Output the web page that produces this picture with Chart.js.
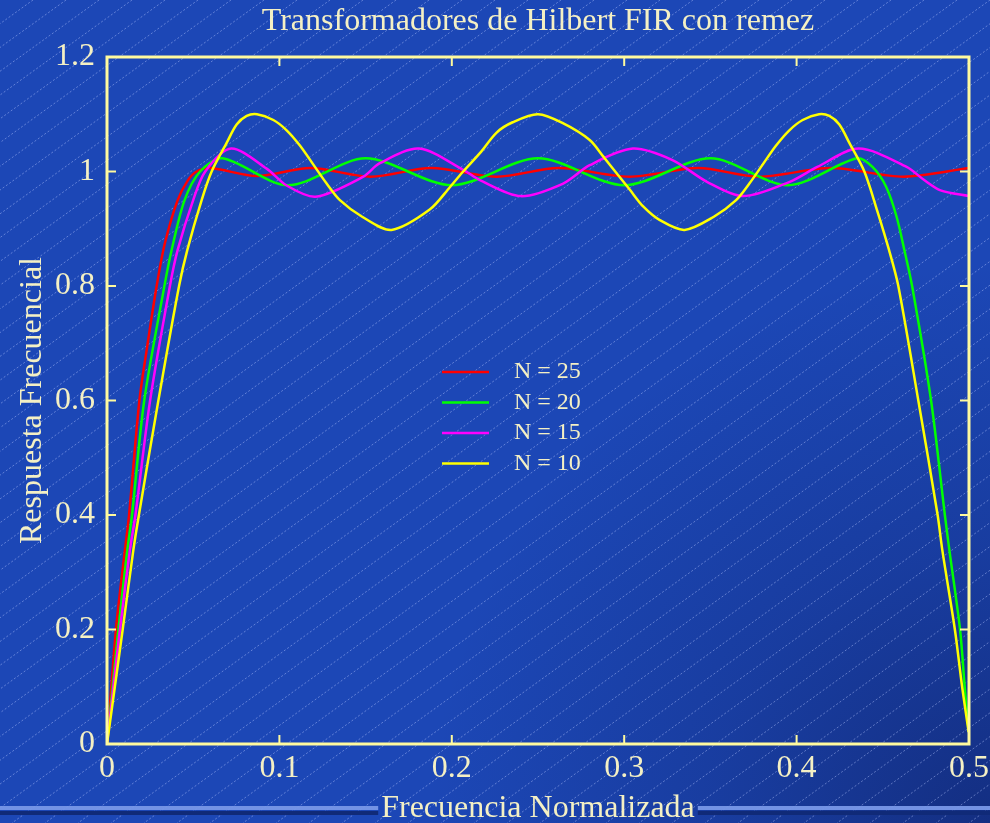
<!DOCTYPE html>
<html>
<head>
<meta charset="utf-8">
<script src="https://cdn.jsdelivr.net/npm/chart.js@4"></script>
<style>
  html, body { margin: 0; padding: 0; background: #1c47b6; }
  canvas { display: block; }
</style>
</head>
<body>
<canvas id="chart" width="990" height="823"></canvas>
<script>
// Frequency response of FIR Hilbert transformers (remez), normalized frequency 0..0.5
const freqN25 = [0, 0.0052, 0.0104, 0.0128, 0.0188, 0.023, 0.0288, 0.0336, 0.041, 0.047, 0.052, 0.06, 0.087, 0.118, 0.153, 0.188, 0.226, 0.262, 0.303, 0.343, 0.378, 0.42, 0.462, 0.5];
const respN25 = [0, 0.2, 0.339, 0.4, 0.6, 0.688, 0.8, 0.875, 0.95, 0.985, 1.0, 1.006, 0.992, 1.006, 0.991, 1.006, 0.991, 1.006, 0.991, 1.006, 0.991, 1.006, 0.991, 1.006];

const freqN20 = [0, 0.0066, 0.0118, 0.0145, 0.0216, 0.0333, 0.0375, 0.045, 0.054, 0.067, 0.105, 0.15, 0.2, 0.25, 0.3, 0.35, 0.395, 0.435, 0.444, 0.452, 0.458, 0.4625, 0.467, 0.478, 0.486, 0.4886, 0.4948, 0.4975, 0.4998];
const respN20 = [0, 0.2, 0.339, 0.4, 0.6, 0.8, 0.863, 0.95, 1.0, 1.023, 0.976, 1.023, 0.976, 1.023, 0.976, 1.023, 0.976, 1.023, 1.008, 0.973, 0.921, 0.863, 0.8, 0.6, 0.4, 0.339, 0.2, 0.1, 0.022];

const freqN15 = [0, 0.0075, 0.0133, 0.0165, 0.025, 0.0365, 0.041, 0.05, 0.057, 0.072, 0.0926, 0.104, 0.121, 0.1487, 0.158, 0.181, 0.2066, 0.2163, 0.24, 0.2646, 0.28, 0.305, 0.328, 0.348, 0.369, 0.396, 0.412, 0.436, 0.4638, 0.474, 0.4835, 0.5];
const respN15 = [0, 0.2, 0.339, 0.4, 0.6, 0.8, 0.863, 0.95, 1.0, 1.04, 1.005, 0.976, 0.956, 0.991, 1.014, 1.04, 1.003, 0.985, 0.957, 0.979, 1.011, 1.04, 1.02, 0.982, 0.957, 0.982, 1.008, 1.04, 1.008, 0.985, 0.967, 0.957];

const freqN10 = [0, 0.0091, 0.0153, 0.0185, 0.0298, 0.0418, 0.0466, 0.0549, 0.0607, 0.0694, 0.0752, 0.081, 0.087, 0.0965, 0.1042, 0.112, 0.1197, 0.1274, 0.1351, 0.148, 0.165, 0.187, 0.199, 0.2066, 0.2163, 0.226, 0.2353, 0.25, 0.2647, 0.28, 0.2879, 0.2956, 0.3033, 0.311, 0.3207, 0.335, 0.352, 0.3649, 0.3726, 0.3803, 0.388, 0.3958, 0.4035, 0.413, 0.419, 0.4248, 0.4306, 0.4393, 0.4466, 0.4536, 0.459, 0.4706, 0.4818, 0.4845, 0.4918, 0.496, 0.4998];
const respN10 = [0, 0.2, 0.339, 0.4, 0.6, 0.8, 0.863, 0.95, 1.0, 1.05, 1.082, 1.097, 1.1, 1.09, 1.072, 1.045, 1.012, 0.979, 0.95, 0.921, 0.898, 0.933, 0.973, 1.0, 1.032, 1.068, 1.086, 1.1, 1.084, 1.055, 1.026, 0.997, 0.968, 0.939, 0.915, 0.898, 0.921, 0.95, 0.979, 1.012, 1.045, 1.072, 1.09, 1.1, 1.097, 1.082, 1.05, 1.0, 0.933, 0.863, 0.8, 0.6, 0.4, 0.339, 0.2, 0.1, 0.021];

const seriesLabels = ['N = 25', 'N = 20', 'N = 15', 'N = 10'];
const seriesColors = ['#ff0000', '#00ff00', '#ff00ff', '#ffff00'];

const xTickValues = [0, 0.1, 0.2, 0.3, 0.4, 0.5];
const yTickValues = [0, 0.2, 0.4, 0.6, 0.8, 1, 1.2];

const TEXT = '#f4f0c4';
const FRAME = '#fffa9e';
const SERIF = '"Liberation Serif", "Times New Roman", Times, serif';

function pairs(fx, fy) { return fx.map((f, i) => ({ x: f, y: fy[i] })); }
function shortNum(v) { return String(Math.round(v * 10) / 10); }

// Slide backdrop: blue field, darker lower-right corner, thin diagonal hatching, footer rule
const backdrop = {
  id: 'backdrop',
  beforeDraw(chart) {
    const { ctx, width, height, chartArea } = chart;
    ctx.save();
    ctx.fillStyle = '#1c47b6';
    ctx.fillRect(0, 0, width, height);
    const g = ctx.createRadialGradient(width, height, 0, width, height, 560);
    g.addColorStop(0, 'rgba(14,30,95,0.60)');
    g.addColorStop(0.5, 'rgba(14,30,95,0.25)');
    g.addColorStop(1, 'rgba(14,30,95,0)');
    ctx.fillStyle = g;
    ctx.fillRect(0, 0, width, height);

    ctx.strokeStyle = 'rgba(185,200,255,0.45)';
    ctx.lineWidth = 1;
    ctx.setLineDash([2, 2]);
    const slope = 0.72, gap = 33;
    const run = height / slope;
    for (let c = 0; c < width + run; c += gap) {
      ctx.beginPath();
      ctx.moveTo(c, 0);
      ctx.lineTo(c - run, height);
      ctx.stroke();
    }
    ctx.setLineDash([]);

    // footer rule, interrupted behind the x-axis title
    ctx.font = '32px ' + SERIF;
    const tw = ctx.measureText('Frecuencia Normalizada').width;
    const cx = (chartArea.left + chartArea.right) / 2;
    const g0 = cx - tw / 2 - 3, g1 = cx + tw / 2 + 3;
    ctx.fillStyle = 'rgba(120,152,232,0.95)';
    ctx.fillRect(0, 806, g0, 4);
    ctx.fillRect(g1, 806, width - g1, 4);
    ctx.fillStyle = '#102a78';
    ctx.fillRect(0, 811, g0, 4);
    ctx.fillRect(g1, 811, width - g1, 4);
    ctx.restore();
  }
};

// Box frame around the plot with inward tick marks on all four sides
const frame = {
  id: 'frame',
  afterDatasetsDraw(chart) {
    const { ctx, chartArea: a, scales: { x, y } } = chart;
    ctx.save();
    ctx.strokeStyle = FRAME;
    ctx.lineWidth = 2;
    ctx.beginPath();
    x.ticks.forEach(t => {
      const px = x.getPixelForValue(t.value);
      if (px <= a.left + 2 || px >= a.right - 2) return;
      ctx.moveTo(px, a.bottom); ctx.lineTo(px, a.bottom - 9);
      ctx.moveTo(px, a.top); ctx.lineTo(px, a.top + 9);
    });
    y.ticks.forEach(t => {
      const py = y.getPixelForValue(t.value);
      if (py <= a.top + 2 || py >= a.bottom - 2) return;
      ctx.moveTo(a.left, py); ctx.lineTo(a.left + 9, py);
      ctx.moveTo(a.right, py); ctx.lineTo(a.right - 9, py);
    });
    ctx.stroke();
    ctx.lineWidth = 3;
    ctx.strokeRect(a.left, a.top, a.right - a.left, a.bottom - a.top);
    ctx.restore();
  }
};

// Key placed inside the plot area
const keyBox = {
  id: 'keyBox',
  afterDraw(chart) {
    const { ctx, chartArea: a } = chart;
    const x0 = a.left + 335, y0 = a.top + 315;
    ctx.save();
    ctx.font = '24px ' + SERIF;
    ctx.textBaseline = 'middle';
    ctx.textAlign = 'left';
    chart.data.datasets.forEach((ds, i) => {
      const yy = y0 + i * 30.5;
      ctx.strokeStyle = ds.borderColor;
      ctx.lineWidth = 2.5;
      ctx.beginPath();
      ctx.moveTo(x0, yy);
      ctx.lineTo(x0 + 47, yy);
      ctx.stroke();
      ctx.fillStyle = TEXT;
      ctx.fillText(ds.label, x0 + 72, yy);
    });
    ctx.restore();
  }
};

const series = [[freqN25, respN25], [freqN20, respN20], [freqN15, respN15], [freqN10, respN10]];

new Chart(document.getElementById('chart'), {
  type: 'line',
  data: {
    datasets: series.map(([fx, fy], i) => ({
      label: seriesLabels[i],
      data: pairs(fx, fy),
      borderColor: seriesColors[i],
      backgroundColor: seriesColors[i],
      borderWidth: 2.5,
      pointRadius: 0,
      fill: false,
      tension: 0.3,
      order: seriesLabels.length - i
    }))
  },
  options: {
    responsive: false,
    animation: false,
    devicePixelRatio: 1,
    layout: { padding: { left: 0, right: 21, top: 0, bottom: 0 } },
    plugins: {
      legend: { display: false },
      tooltip: { enabled: false },
      title: {
        display: true,
        text: 'Transformadores de Hilbert FIR con remez',
        color: TEXT,
        fullSize: false,
        font: { family: SERIF, size: 32, weight: 'normal', lineHeight: 1.2 },
        padding: { top: 2.3, bottom: 16.3 }
      }
    },
    scales: {
      x: {
        type: 'linear',
        min: 0,
        max: 0.5,
        afterBuildTicks: s => { s.ticks = xTickValues.map(v => ({ value: v })); },
        afterFit: s => { s.height = 79; s.paddingLeft = 0; s.paddingRight = 0; },
        grid: { display: false, drawTicks: false, tickLength: 0 },
        border: { display: false },
        ticks: {
          color: TEXT,
          padding: 9,
          maxRotation: 0,
          callback: shortNum,
          font: { family: SERIF, size: 32, lineHeight: 1 }
        },
        title: {
          display: true,
          text: 'Frecuencia Normalizada',
          color: TEXT,
          font: { family: SERIF, size: 32, lineHeight: 0.9 },
          padding: { top: 0, bottom: 0 }
        }
      },
      y: {
        type: 'linear',
        min: 0,
        max: 1.2,
        afterBuildTicks: s => { s.ticks = yTickValues.map(v => ({ value: v })); },
        afterFit: s => { s.width = 107; s.paddingTop = 0; s.paddingBottom = 0; },
        grid: { display: false, drawTicks: false, tickLength: 0 },
        border: { display: false },
        ticks: {
          color: TEXT,
          padding: 12,
          callback: shortNum,
          font: { family: SERIF, size: 32, lineHeight: 1 }
        },
        title: {
          display: true,
          text: 'Respuesta Frecuencial',
          color: TEXT,
          font: { family: SERIF, size: 32, lineHeight: 1 },
          padding: { top: 17, bottom: 0 }
        }
      }
    }
  },
  plugins: [backdrop, frame, keyBox]
});
</script>
</body>
</html>
